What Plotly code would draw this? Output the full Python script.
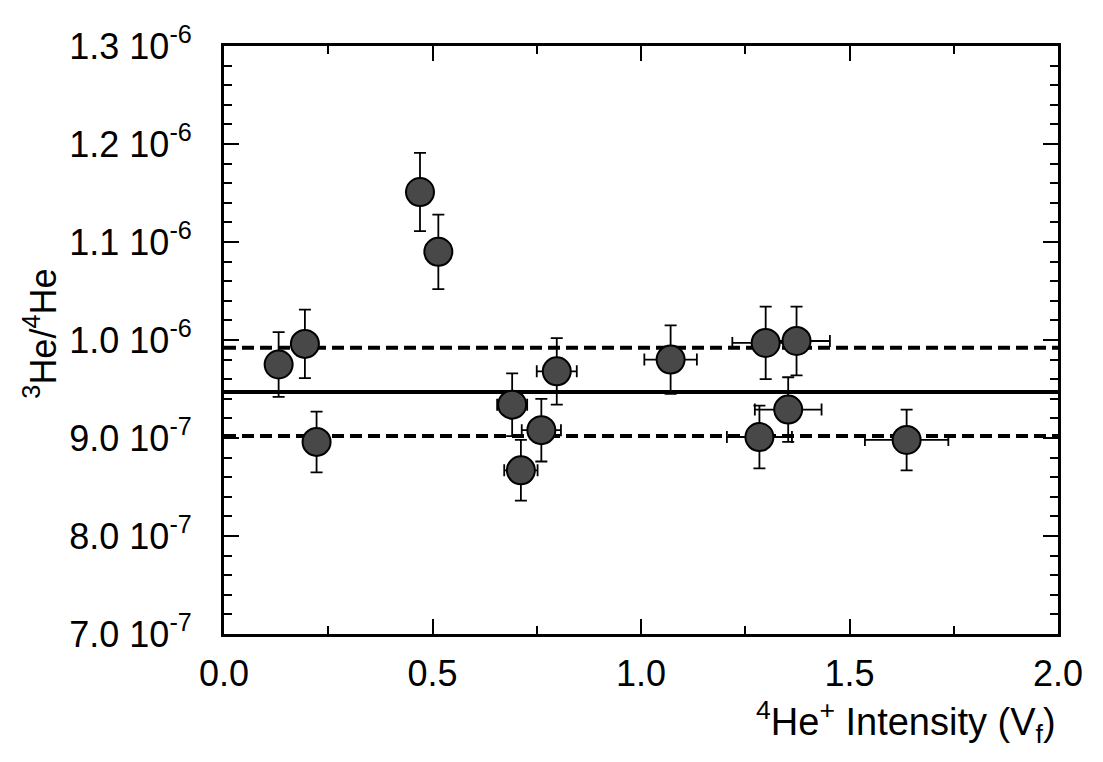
import numpy as np
import plotly.graph_objects as go

# measured points (ratio in units of 1e-6)
intensity = [0.131, 0.194, 0.222, 0.470, 0.514, 0.691, 0.712, 0.761, 0.798,
             1.071, 1.284, 1.299, 1.353, 1.373, 1.637]
ratio = [0.975, 0.996, 0.896, 1.151, 1.090, 0.934, 0.867, 0.908, 0.968,
         0.980, 0.901, 0.997, 0.929, 0.999, 0.898]
ratio_err = [0.033, 0.035, 0.031, 0.040, 0.038, 0.032, 0.031, 0.032, 0.034,
             0.035, 0.032, 0.037, 0.033, 0.035, 0.031]
intensity_err = [0.0, 0.0, 0.0, 0.0, 0.0, 0.036, 0.040, 0.047, 0.048,
                 0.063, 0.078, 0.080, 0.080, 0.080, 0.100]

mean_ratio = 0.947
band = [0.992, 0.902]
x_span = [0.0, 2.0]

y_ticks = [0.7, 0.8, 0.9, 1.0, 1.1, 1.2, 1.3]
y_ticktext = ["7.0 10<sup>-7</sup>", "8.0 10<sup>-7</sup>", "9.0 10<sup>-7</sup>",
              "1.0 10<sup>-6</sup>", "1.1 10<sup>-6</sup>", "1.2 10<sup>-6</sup>",
              "1.3 10<sup>-6</sup>"]
x_ticks = [0.0, 0.5, 1.0, 1.5, 2.0]
x_ticktext = ["0.0", "0.5", "1.0", "1.5", "2.0"]

E = 1e-6
FONT = "Liberation Sans, Arial, sans-serif"
FS = 36

fig = go.Figure()

for yv in band:
    fig.add_trace(go.Scatter(x=x_span, y=[yv * E] * 2, mode="lines",
                             line=dict(color="black", width=4, dash="12px,6px"),
                             hoverinfo="skip", showlegend=False))
fig.add_trace(go.Scatter(x=x_span, y=[mean_ratio * E] * 2, mode="lines",
                         line=dict(color="black", width=4),
                         hoverinfo="skip", showlegend=False))

fig.add_trace(go.Scatter(
    x=intensity, y=np.array(ratio) * E, mode="markers",
    marker=dict(size=28, color="#484848", line=dict(color="black", width=2)),
    error_y=dict(type="data", array=np.array(ratio_err) * E, color="black",
                 thickness=1.8, width=6),
    error_x=dict(type="data", array=intensity_err, color="black",
                 thickness=1.8, width=6),
    showlegend=False))

axis_common = dict(showline=True, linecolor="black", linewidth=3, mirror="allticks",
                   ticks="inside", ticklen=15, tickwidth=2, tickcolor="black",
                   showgrid=False, zeroline=False,
                   tickfont=dict(family=FONT, size=FS, color="black"))

fig.update_xaxes(range=[0, 2], tickvals=x_ticks, ticktext=x_ticktext,
                 minor=dict(ticks="inside", ticklen=8, tickwidth=2,
                            tickcolor="black", dtick=0.25),
                 ticklabelstandoff=6, **axis_common)
fig.update_yaxes(range=[0.7 * E, 1.3 * E], tickvals=[v * E for v in y_ticks],
                 ticktext=y_ticktext,
                 minor=dict(ticks="inside", ticklen=8, tickwidth=2,
                            tickcolor="black", dtick=0.02 * E, tick0=0),
                 ticklabelstandoff=22, **axis_common)

fig.add_annotation(text="<sup>3</sup>He/<sup>4</sup>He", textangle=-90,
                   xref="paper", yref="paper", x=-0.22, y=0.51,
                   xanchor="center", yanchor="middle", showarrow=False,
                   font=dict(family=FONT, size=FS, color="black"))
fig.add_annotation(text="<sup>4</sup>He<sup>+</sup> Intensity (V<sub>f</sub>)",
                   xref="paper", yref="paper", x=1.0, y=-0.1,
                   xanchor="right", yanchor="top", showarrow=False,
                   font=dict(family=FONT, size=38, color="black"))

# page body adds an 8px margin, so the figure is sized to fit inside the window
fig.update_layout(width=1087, height=746, plot_bgcolor="white",
                  paper_bgcolor="white",
                  margin=dict(l=216, r=27, t=38, b=120))

fig.write_html("out.html")
